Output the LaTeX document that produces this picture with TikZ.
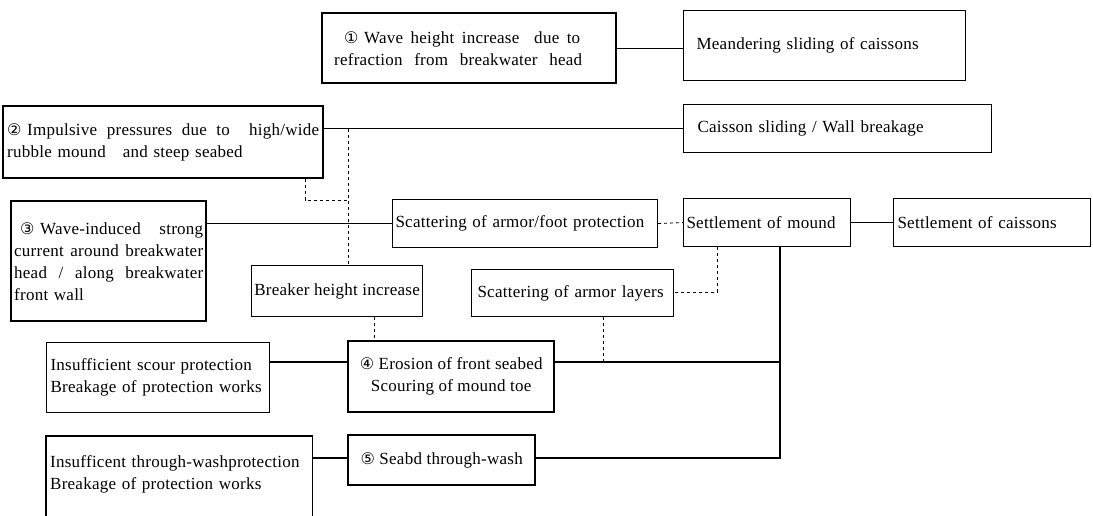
\documentclass[tikz,border=0pt]{standalone}
\usepackage{fontspec}
\setmainfont[LetterSpace=1.5]{Liberation Serif}
\newfontfamily\cnumfont{DejaVu Sans}
\newcommand{\cnum}[1]{{\cnumfont\fontsize{16}{16}\selectfont #1}}
\newcommand{\spread}[2]{\makebox[#1][l]{#2}}
\begin{document}
\begin{tikzpicture}[x=1pt,y=-1pt,
  every node/.style={font=\fontsize{17}{22}\selectfont, inner xsep=5pt, inner ysep=0pt},
  thinbox/.style={draw, line width=1.1pt, anchor=north west},
  thickbox/.style={draw, line width=2.4pt, anchor=north west},
  conn/.style={line width=1.2pt},
  dashconn/.style={line width=0.9pt, dash pattern=on 3pt off 3pt}]
\useasboundingbox (0,0) rectangle (1093,516);
\coordinate (bot) at (0,522);
% boxes
\node[thickbox, minimum width=294, minimum height=70, text width=270, align=left, inner xsep=4pt] (b1) at (321,12)
  {\spread{246pt}{\hspace*{10pt}\cnum{①}\ Wave\hfill height\hfill increase\hfill\hfill due\hfill to}\\
   \spread{248pt}{refraction\hfill from\hfill breakwater\hfill head}};
\node[thinbox, minimum width=282, minimum height=70, text width=256, align=left, inner xsep=13pt] (mea) at (683,10)
  {Meandering sliding of caissons};
\node[thickbox, minimum width=320, minimum height=72, text width=312, align=left, inner xsep=4pt] (b2) at (2,105)
  {\spread{312pt}{\cnum{②}\ Impulsive\hfill pressures\hfill due\hfill to\hfill\hfill high/wide}\\
   rubble mound\ \ \ and steep seabed};
\node[thinbox, minimum width=308, minimum height=48, text width=280, align=left, inner xsep=14pt] (cai) at (683,104)
  {Caisson sliding / Wall breakage};
\node[thickbox, minimum width=195, minimum height=120, text width=189, align=left, inner xsep=3pt] (b3) at (10,200)
  {\spread{189pt}{\hspace*{6pt}\cnum{③}\ Wave-induced\hfill strong}\\
   \spread{189pt}{current\hfill around\hfill breakwater}\\
   \spread{189pt}{head\hfill /\hfill along\hfill breakwater}\\
   front wall};
\node[thinbox, minimum width=265, minimum height=48, text width=259, align=left, inner xsep=3pt] (af) at (392,199)
  {Scattering of armor/foot protection};
\node[thinbox, minimum width=167, minimum height=48, text width=161, align=left, inner xsep=3pt] (mnd) at (683,198)
  {Settlement of mound};
\node[thinbox, minimum width=197, minimum height=48, text width=189, align=left, inner xsep=4pt] (cs) at (893,198)
  {Settlement of caissons};
\node[thinbox, minimum width=171, minimum height=51, align=center, inner xsep=1pt] (brk) at (251,265)
  {Breaker height increase};
\node[thinbox, minimum width=202, minimum height=47, text width=190, align=left, inner xsep=6pt] (al) at (471,269)
  {Scattering of armor layers};
\node[thinbox, minimum width=223, minimum height=70, text width=215, align=left, inner xsep=4pt] (sc) at (46,342)
  {Insufficient scour protection\\Breakage of protection works};
\node[thickbox, minimum width=206, minimum height=71, align=center, inner xsep=2pt] (b4) at (347,340)
  {\cnum{④} Erosion of front seabed\\Scouring of mound toe};
\node[anchor=north west, minimum width=266, minimum height=76, text width=258, align=left, inner xsep=4pt] (tw) at (46,436)
  {Insufficent through-washprotection\\Breakage of protection works};
\node[thickbox, minimum width=187, minimum height=50, align=center, inner xsep=2pt] (b5) at (347,434)
  {\cnum{⑤} Seabd through-wash};
\draw[line width=1.1pt] (tw.north west |- bot) -- (tw.north west) -- (tw.north east) -- (tw.north east |- bot);
% junction coordinates
\coordinate (j1) at (348,129);
\coordinate (d2) at (305,200);
\coordinate (t) at (780,458);
\coordinate (l4) at (780,362);
\coordinate (d3) at (717,292);
\coordinate (d4) at (603,362);
\coordinate (d5) at (374,330);
% solid connectors
\draw[conn] (b1.east) -- (b1.east -| mea.west);
\draw[conn] (cai.west) -- (cai.west -| b2.east);
\draw[conn] (af.west) -- (af.west -| b3.east);
\draw[conn] (mnd.east) -- (cs.west);
\draw[conn] (mnd.south -| t) -- (t) -- (t -| b5.east);
\draw[conn] (l4 -| b4.east) -- (l4);
\draw[conn] (sc.east |- l4) -- (b4.west |- l4);
\draw[conn] (tw.east |- t) -- (b5.west |- t);
% dashed connectors
\draw[dashconn] (j1) -- (j1 |- brk.north);
\draw[dashconn] (d2 |- b2.south) -- (d2) -- (d2 -| j1);
\draw[dashconn] (af.east) -- (mnd.west);
\draw[dashconn] (d3 |- mnd.south) -- (d3) -- (d3 -| al.east);
\draw[dashconn] (d4 |- al.south) -- (d4);
\draw[dashconn] (d5 |- brk.south) -- (d5 |- b4.north);
\end{tikzpicture}
\end{document}
